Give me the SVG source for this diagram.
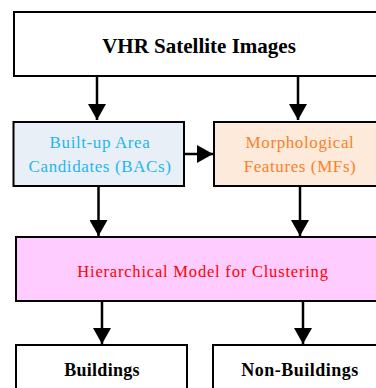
<svg xmlns="http://www.w3.org/2000/svg" width="376" height="388" viewBox="0 0 376 388">
<style>
.box{stroke:#000;stroke-width:2}
.conn{stroke:#000;stroke-width:2.5;fill:none}
.t{font-family:"Liberation Serif","Times New Roman",serif;text-anchor:middle}
.b{font-weight:bold}
</style>
<defs>
<marker id="ah" markerUnits="userSpaceOnUse" markerWidth="16" markerHeight="18" viewBox="0 0 16 18" refX="16" refY="9" orient="auto">
<path d="M0,0 L16,9 L0,18 Z" fill="#000"/>
</marker>
</defs>
<rect width="376" height="388" fill="#fff"/>
<g id="vhr">
<rect class="box" x="14" y="12" width="372" height="64" fill="#fff"/>
<text class="t b" x="199" y="53" font-size="21">VHR Satellite Images</text>
</g>
<g id="bac">
<rect class="box" x="13.5" y="122" width="170.5" height="64" fill="#E9EFF6"/>
<text class="t" x="100" y="148" font-size="17" fill="#1FB6F0" letter-spacing="0.6">Built-up Area</text>
<text class="t" x="100" y="172" font-size="17" fill="#1FB6F0" letter-spacing="0.6">Candidates (BACs)</text>
</g>
<g id="mf">
<rect class="box" x="214" y="122" width="172" height="64" fill="#FDEADA"/>
<text class="t" x="300" y="148" font-size="17" fill="#FF7F27" letter-spacing="0.6">Morphological</text>
<text class="t" x="300" y="172" font-size="17" fill="#FF7F27" letter-spacing="0.6">Features (MFs)</text>
</g>
<g id="hier">
<rect class="box" x="16" y="237" width="370" height="64" fill="#FFCCFF"/>
<text class="t" x="203" y="277" font-size="16.5" fill="#FF0000" letter-spacing="0.8">Hierarchical Model for Clustering</text>
</g>
<g id="buildings">
<rect class="box" x="16" y="345" width="171" height="60" fill="#fff"/>
<text class="t b" x="102" y="376" font-size="18" letter-spacing="0.3">Buildings</text>
</g>
<g id="nonbuildings">
<rect class="box" x="213" y="345" width="173" height="60" fill="#fff"/>
<text class="t b" x="300" y="376" font-size="18" letter-spacing="0.5">Non-Buildings</text>
</g>
<g id="connectors">
<line class="conn" x1="97" y1="76" x2="97" y2="120" marker-end="url(#ah)"/>
<line class="conn" x1="298" y1="76" x2="298" y2="120" marker-end="url(#ah)"/>
<line class="conn" x1="184" y1="154" x2="213" y2="154" marker-end="url(#ah)"/>
<line class="conn" x1="98.5" y1="186" x2="98.5" y2="236" marker-end="url(#ah)"/>
<line class="conn" x1="300" y1="186" x2="300" y2="236" marker-end="url(#ah)"/>
<line class="conn" x1="102" y1="301" x2="102" y2="344" marker-end="url(#ah)"/>
<line class="conn" x1="303" y1="301" x2="303" y2="344" marker-end="url(#ah)"/>
</g>
</svg>
